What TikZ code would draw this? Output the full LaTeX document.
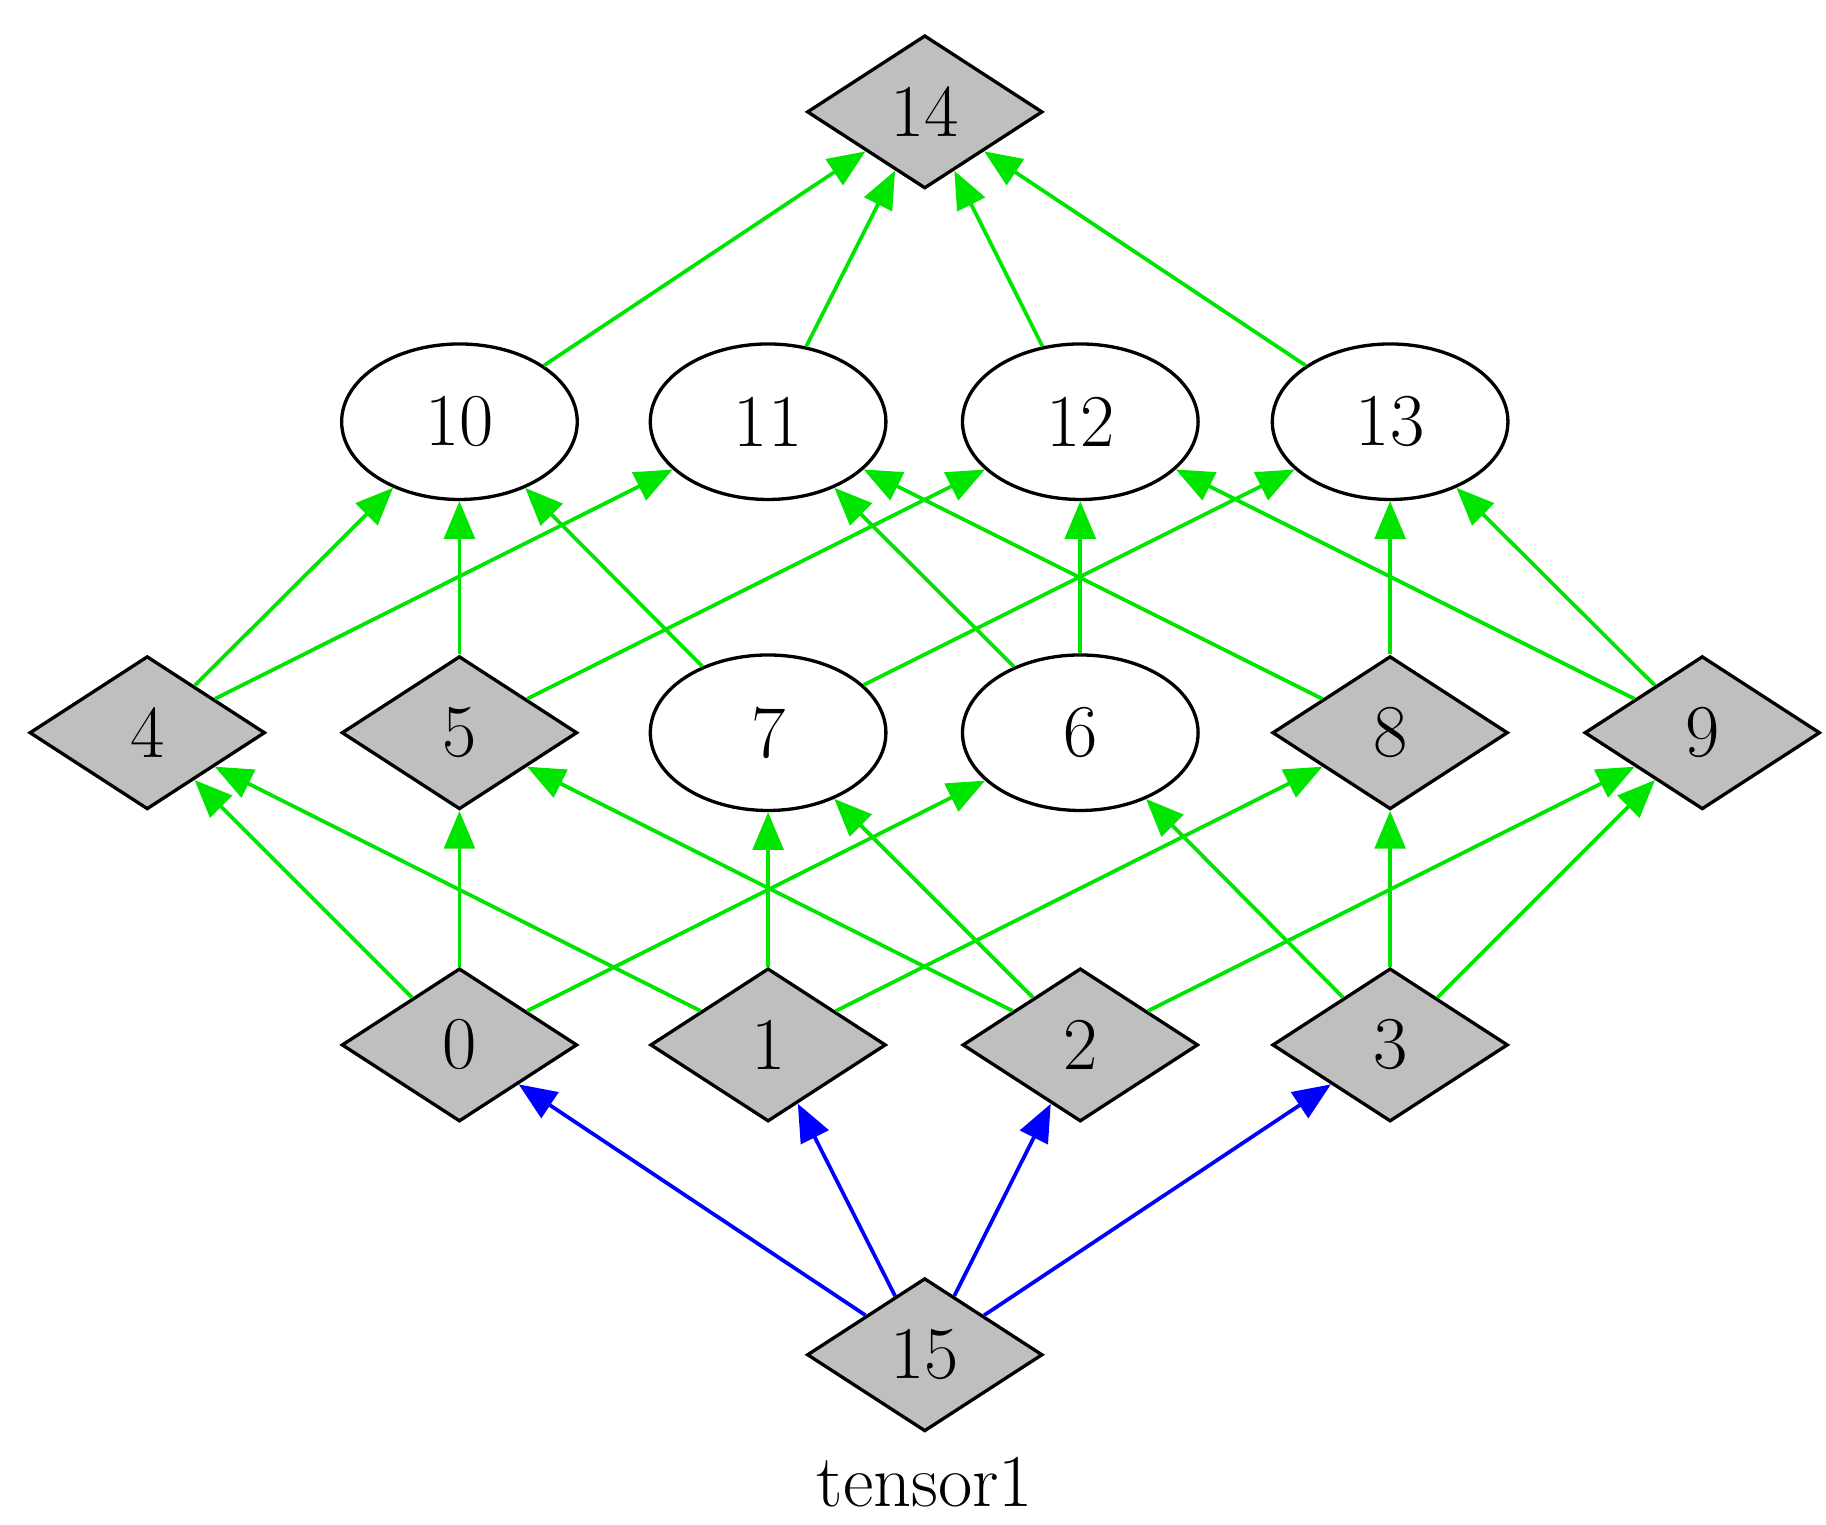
\documentclass[tikz,border=0pt]{standalone}
\usetikzlibrary{shapes.geometric, arrows.meta}
\begin{document}
\begin{tikzpicture}[
        dia/.style={diamond, draw, line width=0.8pt, fill=black!25, inner sep=0pt, minimum width=2cm, minimum height=1.3cm, font=\fontsize{18}{20}\selectfont},
        ell/.style={ellipse, draw, line width=0.8pt, minimum width=2cm, minimum height=1.32cm, font=\fontsize{18}{20}\selectfont},
        arrow/.style={-{Triangle[length=0.32cm, width=0.26cm]}, line width=0.9pt, green!90!black},
        barrow/.style={arrow, blue}
    ]
        \useasboundingbox (0,0) rectangle (15.5,12.94);

        % Top and bottom
        \node[dia] (n14) at (7.85, 11.99) {14};
        \node[dia] (n15) at (7.85, 1.44) {15};
        \node[font=\fontsize{18}{20}\selectfont] (lbl) at (7.85, 0.36) {tensor1};

        % Upper row
        \node[ell] (n10) at (3.90, 9.36) {10};
        \node[ell] (n11) at (6.52, 9.36) {11};
        \node[ell] (n12) at (9.17, 9.36) {12};
        \node[ell] (n13) at (11.80, 9.36) {13};

        % Middle row
        \node[dia] (n4) at (1.25, 6.72) {4};
        \node[dia] (n5) at (3.90, 6.72) {5};
        \node[ell] (n7) at (6.52, 6.72) {7};
        \node[ell] (n6) at (9.17, 6.72) {6};
        \node[dia] (n8) at (11.80, 6.72) {8};
        \node[dia] (n9) at (14.45, 6.72) {9};

        % Lower row
        \node[dia] (n0) at (3.90, 4.07) {0};
        \node[dia] (n1) at (6.52, 4.07) {1};
        \node[dia] (n2) at (9.17, 4.07) {2};
        \node[dia] (n3) at (11.80, 4.07) {3};

        % Arrows to 14
        \foreach \s in {10,11,12,13}
            \draw[arrow] (n\s) -- (n14);

        % Arrows to upper row
        \draw[arrow] (n4) -- (n10);
        \draw[arrow] (n4) -- (n11);
        \draw[arrow] (n5) -- (n10);
        \draw[arrow] (n5) -- (n12);
        \draw[arrow] (n7) -- (n10);
        \draw[arrow] (n7) -- (n13);
        \draw[arrow] (n6) -- (n11);
        \draw[arrow] (n6) -- (n12);
        \draw[arrow] (n8) -- (n11);
        \draw[arrow] (n8) -- (n13);
        \draw[arrow] (n9) -- (n12);
        \draw[arrow] (n9) -- (n13);

        % Arrows to middle row
        \draw[arrow] (n0) -- (n4);
        \draw[arrow] (n0) -- (n5);
        \draw[arrow] (n0) -- (n6);
        \draw[arrow] (n1) -- (n4);
        \draw[arrow] (n1) -- (n7);
        \draw[arrow] (n1) -- (n8);
        \draw[arrow] (n2) -- (n5);
        \draw[arrow] (n2) -- (n7);
        \draw[arrow] (n2) -- (n9);
        \draw[arrow] (n3) -- (n6);
        \draw[arrow] (n3) -- (n8);
        \draw[arrow] (n3) -- (n9);

        % Arrows from 15
        \foreach \t in {0,1,2,3}
            \draw[barrow] (n15) -- (n\t);
    \end{tikzpicture}
\end{document}
